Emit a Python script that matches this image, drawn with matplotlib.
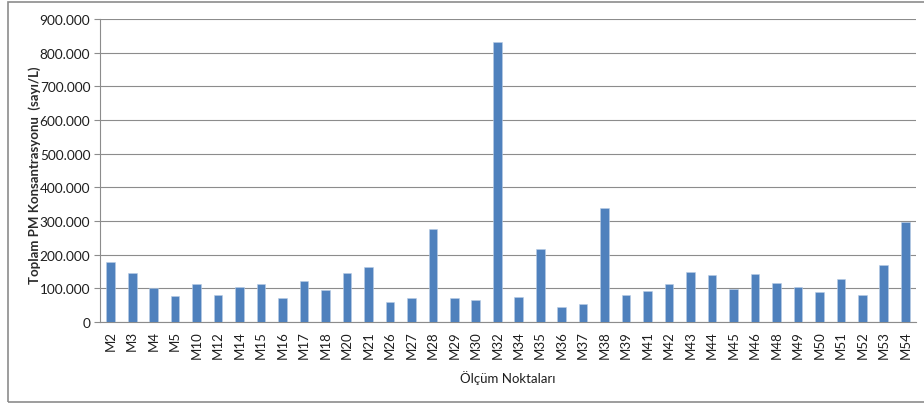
import matplotlib
matplotlib.use("Agg")
import matplotlib.pyplot as plt
from matplotlib.patches import Rectangle
from matplotlib.ticker import FuncFormatter, MultipleLocator

# Measurement points and total PM concentration (count per litre)
points = ["M2", "M3", "M4", "M5", "M10", "M12", "M14", "M15", "M16", "M17",
          "M18", "M20", "M21", "M26", "M27", "M28", "M29", "M30", "M32", "M34",
          "M35", "M36", "M37", "M38", "M39", "M41", "M42", "M43", "M44", "M45",
          "M46", "M48", "M49", "M50", "M51", "M52", "M53", "M54"]
concentration = [178000, 147000, 100000, 77000, 112000, 79000, 105000, 112000, 72000, 123000,
                 96000, 147000, 162000, 59000, 72000, 275000, 70000, 66000, 832000, 74000,
                 218000, 44000, 52000, 338000, 81000, 92000, 112000, 149000, 140000, 99000,
                 143000, 116000, 105000, 88000, 129000, 79000, 169000, 296000]

y_label = "Toplam PM Konsantrasyonu  (sayı/L)"
x_label = "Ölçüm Noktaları"

plt.rcParams["font.family"] = ["Lato", "DejaVu Sans"]

W, H = 924, 406
fig = plt.figure(figsize=(W / 100, H / 100), dpi=100)
ax = fig.add_axes([100 / W, 1 - 323 / H, (916 - 100) / W, (323 - 20) / H])

x = range(len(points))
ax.bar(x, concentration, width=0.4, color="#4F81BD", edgecolor="#B9CDE5",
       linewidth=0.4, zorder=3)

ax.set_xlim(-0.5, len(points) - 0.5)
ax.set_ylim(0, 900000)
ax.yaxis.set_major_locator(MultipleLocator(100000))
ax.yaxis.set_major_formatter(FuncFormatter(
    lambda v, _: "0" if v == 0 else f"{int(v):,}".replace(",", ".")))
ax.grid(axis="y", color="#8C8C8C", linewidth=0.8, zorder=0)

ax.set_xticks(list(x))
ax.set_xticklabels(points, rotation=90, fontsize=9.5, color="#1E1E1E")
ax.tick_params(axis="x", length=0, pad=6)
ax.tick_params(axis="y", length=4, width=0.8, color="#8C8C8C",
               labelsize=9.8, labelcolor="#1E1E1E", pad=3)

for side in ("top", "right"):
    ax.spines[side].set_visible(False)
ax.spines["left"].set_color("#8C8C8C")
ax.spines["bottom"].set_color("#8C8C8C")
ax.spines["left"].set_linewidth(0.8)
ax.spines["bottom"].set_linewidth(0.8)

fig.text(35 / W, 1 - 175 / H, y_label, rotation=90, ha="center", va="center",
         fontsize=9.5, fontweight="bold", color="#2A2A2A")
fig.text(508 / W, 1 - 378 / H, x_label, ha="center", va="center",
         fontsize=9.5, color="#1E1E1E")

# Chart area border
fig.patches.append(Rectangle((8 / W, 3 / H), (W + 10 - 8) / W, (403 - 3) / H,
                             transform=fig.transFigure, fill=False,
                             edgecolor="#8C8C8C", linewidth=1.2))

fig.savefig("out.png", dpi=100)
